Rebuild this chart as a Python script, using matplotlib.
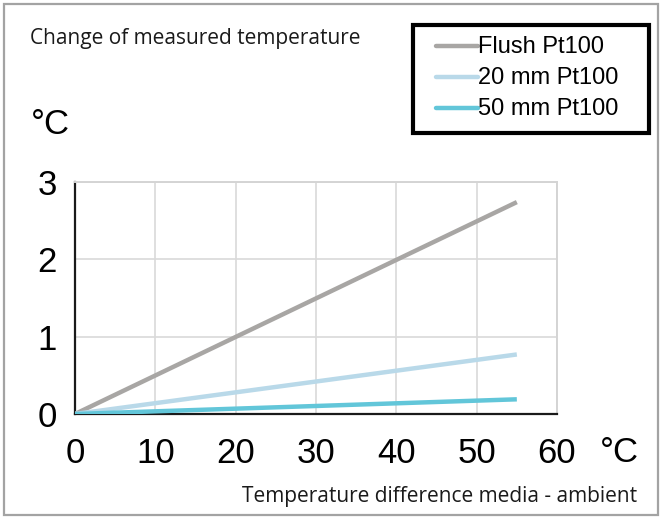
import matplotlib
matplotlib.use("Agg")
import matplotlib.pyplot as plt
from matplotlib.patches import Rectangle
from matplotlib.lines import Line2D

# data
temp_diff = [0, 55]
flush_pt100 = [0, 2.74]
mm20_pt100 = [0, 0.77]
mm50_pt100 = [0, 0.19]
series_names = ["Flush Pt100", "20 mm Pt100", "50 mm Pt100"]
series_colors = ["#a8a6a4", "#b9d9e9", "#62c6d9"]
x_ticks = [0, 10, 20, 30, 40, 50, 60]
y_ticks = [0, 1, 2, 3]

W, H = 662, 518
fig = plt.figure(figsize=(W / 100, H / 100), dpi=100)
fig.patch.set_facecolor("white")

def fx(px):
    return px / W

def fy(py):
    return (H - py) / H

# outer grey frame
fig.patches.append(Rectangle((fx(4), fy(515)), fx(654), 511 / H, transform=fig.transFigure,
                             fill=False, edgecolor="#a3a3a3", linewidth=1.6))

ax = fig.add_axes([fx(75), fy(414), fx(482), 232 / H])
for y, c, name in zip([flush_pt100, mm20_pt100, mm50_pt100], series_colors, series_names):
    ax.plot(temp_diff, y, color=c, linewidth=3.2, solid_capstyle="butt", label=name, zorder=3)

ax.set_xlim(0, 60)
ax.set_ylim(0, 3)
ax.set_xticks(x_ticks)
ax.set_yticks(y_ticks)
ax.grid(True, color="#d9d9d9", linewidth=1.2)
ax.set_axisbelow(True)
ax.tick_params(length=0, labelsize=25)
ax.tick_params(axis="x", pad=16.5)
ax.tick_params(axis="y", pad=13)
for lab in ax.get_xticklabels() + ax.get_yticklabels():
    lab.set_fontfamily("Liberation Sans")
for s in ["left", "bottom"]:
    ax.spines[s].set_color("#1a1a1a")
    ax.spines[s].set_linewidth(1.6)
for s in ["top", "right"]:
    ax.spines[s].set_color("#d4d4d4")
    ax.spines[s].set_linewidth(1.4)

# legend box drawn by hand to match the wide framed box of the original
fig.patches.append(Rectangle((fx(413), fy(133)), fx(236), 108 / H, transform=fig.transFigure,
                             fill=True, facecolor="white", edgecolor="black", linewidth=3))
baselines = [53, 84.5, 115]
for line, base in zip(ax.get_lines(), baselines):
    fig.add_artist(Line2D([fx(436), fx(478)], [fy(base - 7.5)] * 2, transform=fig.transFigure,
                          color=line.get_color(), linewidth=3.2, solid_capstyle="round"))
    fig.text(fx(478), fy(base), line.get_label(), fontsize=17, family="Liberation Sans",
             va="baseline", ha="left")

fig.text(fx(30), fy(44), "Change of measured temperature", fontsize=15,
         family="Open Sans", va="baseline", ha="left", color="#1a1a1a")
fig.text(fx(31), fy(134), "°C", fontsize=25, family="Liberation Sans",
         va="baseline", ha="left")
fig.text(fx(600), fy(462), "°C", fontsize=25, family="Liberation Sans",
         va="baseline", ha="left")
fig.text(fx(637), fy(502), "Temperature difference media - ambient", fontsize=15,
         family="Open Sans", va="baseline", ha="right", color="#1a1a1a")

fig.savefig("out.png", dpi=100)
